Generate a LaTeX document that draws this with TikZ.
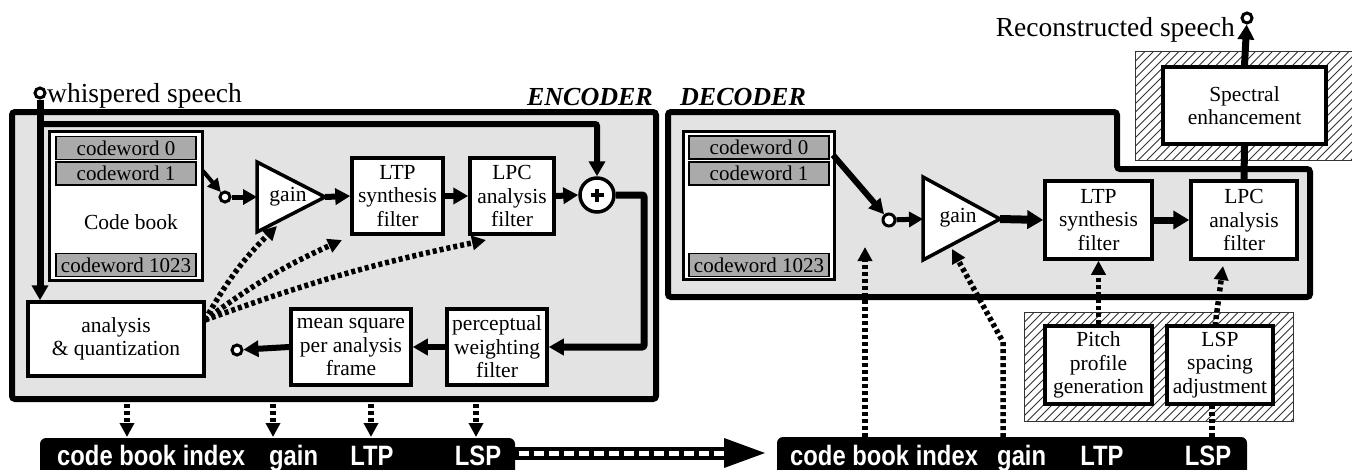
\documentclass[tikz,border=0pt]{standalone}
\usepackage{fontspec}
\setmainfont{Liberation Serif}
\newfontfamily\barfont{Liberation Sans}[FakeStretch=0.85]
\usetikzlibrary{arrows.meta,calc}

\definecolor{panelgray}{HTML}{E3E3E3}
\definecolor{cwgray}{HTML}{AAAAAA}
\definecolor{hatchgray}{HTML}{333333}

\begin{document}
\begin{tikzpicture}[x=1pt,y=-1pt,
  box/.style={draw, line width=3.5pt, fill=white, align=center, inner sep=0pt,
    font=\fontsize{21.5}{23.5}\selectfont},
  bookbox/.style={draw, line width=3pt, fill=white, inner sep=0pt},
  cw/.style={draw, line width=1.2pt, fill=cwgray, inner sep=0pt,
    minimum width=140pt, minimum height=23pt, font=\fontsize{21}{23}\selectfont},
  panel/.style={draw, line width=6pt, fill=panelgray, rounded corners=3pt},
  hatchbg/.style={fill=white, inner sep=0pt},
  hatchline/.style={draw=hatchgray, line width=0.8pt},
  hatchrim/.style={draw=hatchgray, line width=1.3pt},
  term/.style={circle, draw, line width=3pt, fill=white, inner sep=0pt, minimum size=10pt},
  amp/.style={draw, line width=3.5pt, fill=white, line join=miter},
  plain/.style={inner sep=0pt, font=\fontsize{21.5}{23.5}\selectfont},
  label/.style={inner sep=0pt, font=\fontsize{27.5}{29}\selectfont},
  head/.style={inner sep=0pt, font=\fontsize{26}{28}\selectfont\bfseries\itshape},
  bar/.style={fill=black, rounded corners=6pt, inner sep=0pt},
  barword/.style={text=white, inner sep=0pt, anchor=base,
    font={\barfont\bfseries\fontsize{28}{30}\selectfont}},
  sig/.style={line width=6pt, -{Triangle[length=15pt,width=16pt]}},
  dotarrow/.style={line width=5.5pt, dash pattern=on 4pt off 3pt,
    -{Triangle[length=14pt,width=14pt]}},
  dotline/.style={line width=5.5pt, dash pattern=on 4pt off 3pt},
]
\path[use as bounding box, fill=white] (0,0) rectangle (1352,469);

% ---------- panels and hatched areas ----------
\node[panel, minimum width=644pt, minimum height=287pt] (enc) at (334,255.5) {};
\draw[panel] (668,112) -- (1117,112) -- (1117,169) -- (1310,169) -- (1310,297) -- (668,297) -- cycle;

\node[hatchbg, minimum width=224pt, minimum height=108pt] (hatchS) at (1248,106) {};
\begin{scope}
  \clip (hatchS.south west) rectangle (hatchS.north east);
  \foreach \t in {1028,1036.5,...,1362} \draw[hatchline] (\t,160) -- ++(108,-108);
\end{scope}
\draw[hatchrim] (hatchS.south west) rectangle (hatchS.north east);

\node[hatchbg, minimum width=268pt, minimum height=108pt] (hatchP) at (1159,367) {};
\begin{scope}
  \clip (hatchP.south west) rectangle (hatchP.north east);
  \foreach \t in {917,925.5,...,1295} \draw[hatchline] (\t,421) -- ++(108,-108);
\end{scope}
\draw[hatchrim] (hatchP.south west) rectangle (hatchP.north east);

\node[head, anchor=base east] (encT) at (653,105) {ENCODER};
\node[head, anchor=base west] (decT) at (680,105) {DECODER};

% ---------- encoder ----------
\node[term] (wsIn) at (40,93) {};
\node[label, anchor=base west] (wsT) at (47,102) {whispered speech};

\node[bookbox, minimum width=153pt, minimum height=149pt] (cbE) at (125.5,205.5) {};
\node[cw] (cw0E) at (126,148) {codeword 0};
\node[cw] (cw1E) at (126,173.5) {codeword 1};
\node[cw] (cw1023E) at (126,265) {codeword 1023};
\node[plain] (cbEl) at (131,222) {Code book};

\node[term] (swE) at (225,197) {};
\draw[amp] (257,162) -- (325,197) -- (257,232) -- cycle;
\coordinate (gEin) at (257,197);
\coordinate (gEout) at (325,197);
\coordinate (gEfb) at (277,226);
\node[plain] (gainE) at (288,197) {gain};

\node[box, minimum width=91pt, minimum height=76pt] (ltpE) at (397.5,196) {LTP\\synthesis\\filter};
\node[box, minimum width=84pt, minimum height=76pt] (lpcE) at (512,196) {LPC\\analysis\\filter};
\node[circle, draw, line width=3.5pt, fill=white, minimum size=34pt, inner sep=0pt] (add) at (597,195) {};
\draw[line width=4.5pt] ($(add)+(-6.5,0)$) -- ($(add)+(6.5,0)$) ($(add)+(0,-6.5)$) -- ($(add)+(0,6.5)$);

\node[box, minimum width=176pt, minimum height=74pt] (anaE) at (116,339) {analysis\\\& quantization};
\node[box, minimum width=120pt, minimum height=76pt] (msE) at (351,347) {mean square\\per analysis\\frame};
\node[box, minimum width=100pt, minimum height=76pt] (pwE) at (497,347) {perceptual\\weighting\\filter};
\node[term] (errE) at (237,350) {};

% encoder signal path
\coordinate (wsTop) at (40,124);
\draw[line width=7pt, -{Triangle[length=15pt,width=16pt]}] (wsIn) -- (wsIn |- anaE.north);
\draw[sig, rounded corners=2pt] (wsTop) -| (add.north);
\coordinate (cbOutE) at (203,171);
\draw[line width=4pt, -{Triangle[length=13pt,width=13pt]}] (cbOutE) -- (swE);
\draw[line width=5pt, -{Triangle[length=14pt,width=15pt]}] (swE) -- (gEin);
\draw[sig] (gEout) -- (ltpE.west);
\draw[sig] (ltpE.east) -- (lpcE.west);
\draw[sig] (lpcE.east) -- (add.west);
\coordinate (addR) at (644,195);
\draw[line width=7pt, -{Triangle[length=15pt,width=16pt]}, rounded corners=2pt]
  (add.east) -- (addR) |- (pwE.east);
\draw[sig] (pwE.west) -- (msE.east);
\draw[sig] (msE.west) -- (errE);

% parameter feedback from analysis
\coordinate (anaOut) at (205,320);
\coordinate (ltpEfb) at (342,240);
\coordinate (lpcEfb) at (486,240);
\draw[dotarrow] (anaOut) to[bend left=8] (gEfb);
\draw[dotarrow] (anaOut) to[bend left=6] (ltpEfb);
\draw[dotarrow] (anaOut) to[bend left=4] (lpcEfb);

% ---------- transmitted parameters ----------
\node[bar, minimum width=475pt, minimum height=42pt] (barE) at (277.5,459) {};
\node[barword, anchor=base west] (wE1) at (57,465) {code book index};
\node[barword, anchor=base west] (wE2) at (269,465) {gain};
\node[barword] (wE3) at (372,465) {LTP};
\node[barword] (wE4) at (478,465) {LSP};
\foreach \x [count=\i] in {127,273,371,476} {
  \coordinate (pS\i) at (\x,404);
  \coordinate (pT\i) at (\x,437);
  \draw[dotarrow] (pS\i) -- (pT\i);
}

\node[bar, minimum width=470pt, minimum height=43pt] (barD) at (1012,458.5) {};
\node[barword, anchor=base west] (wD1) at (790,465) {code book index};
\node[barword, anchor=base west] (wD2) at (997,465) {gain};
\node[barword] (wD3) at (1102,465) {LTP};
\node[barword] (wD4) at (1208,465) {LSP};

\coordinate (chEnd) at (724,453);
\coordinate (chTip) at (765,453);
\draw[line width=13pt] (barE.east |- chEnd) -- (chEnd);
\draw[white, line width=5pt, dash pattern=on 10pt off 5pt] ($(barE.east |- chEnd)+(4,0)$) -- (chEnd);
\fill ($(chEnd)+(0,-15)$) -- (chTip) -- ($(chEnd)+(0,15)$) -- cycle;

% ---------- decoder ----------
\node[bookbox, minimum width=151pt, minimum height=148pt] (cbD) at (758.5,205) {};
\node[cw] (cw0D) at (759,147.5) {codeword 0};
\node[cw] (cw1D) at (759,173.5) {codeword 1};
\node[cw] (cw1023D) at (759,265) {codeword 1023};

\node[term, minimum size=12pt] (swD) at (889,220) {};
\draw[amp] (923,177) -- (1000,219) -- (923,260) -- cycle;
\coordinate (gDin) at (923,219);
\coordinate (gDout) at (1000,219);
\coordinate (gDfb) at (952,249);
\node[plain] (gainD) at (958,218) {gain};

\node[box, minimum width=107pt, minimum height=78pt] (ltpD) at (1098.5,220) {LTP\\synthesis\\filter};
\node[box, minimum width=106pt, minimum height=78pt] (lpcD) at (1244,220) {LPC\\analysis\\filter};
\node[box, minimum width=163pt, minimum height=77pt] (specD) at (1244.5,105.5) {Spectral\\enhancement};
\node[term] (outD) at (1247,18) {};
\node[label, anchor=base east] (recT) at (1235,36) {Reconstructed speech};

\node[box, minimum width=107pt, minimum height=78pt] (pitchD) at (1098.5,365) {Pitch\\profile\\generation};
\node[box, minimum width=106pt, minimum height=78pt] (lspD) at (1220,365) {LSP\\spacing\\adjustment};

% decoder signal path
\coordinate (cbOutD) at (833,155);
\draw[line width=6pt, -{Triangle[length=15pt,width=15pt]}] (cbOutD) -- (swD);
\draw[line width=5pt, -{Triangle[length=14pt,width=15pt]}] (swD) -- (gDin);
\draw[line width=8pt, -{Triangle[length=16pt,width=18pt]}] (gDout) -- (ltpD.west);
\draw[line width=7pt, -{Triangle[length=16pt,width=18pt]}] (ltpD.east) -- (lpcD.west);
\draw[line width=7pt] (lpcD.north) -- (specD.south);
\draw[line width=7pt, -{Triangle[length=15pt,width=16pt]}] (specD.north) -- (outD);

% decoder parameter paths
\coordinate (cbiS) at (865,437);
\coordinate (cbiT) at (865,247);
\draw[dotarrow] (cbiS) -- (cbiT);
\coordinate (gainS) at (1003,437);
\coordinate (gainK) at (1003,342);
\draw[dotarrow] (gainS) -- (gainK) -- (gDfb);
\draw[dotarrow] (pitchD.north) -- (ltpD.south);
\coordinate (lspS) at (1212,437);
\draw[dotline] (lspS) -- (lspS |- lspD.south);
\coordinate (lspUp) at (1215,326);
\coordinate (lpcDfb) at (1223,266);
\draw[dotarrow] (lspUp) -- (lpcDfb);
\end{tikzpicture}
\end{document}
